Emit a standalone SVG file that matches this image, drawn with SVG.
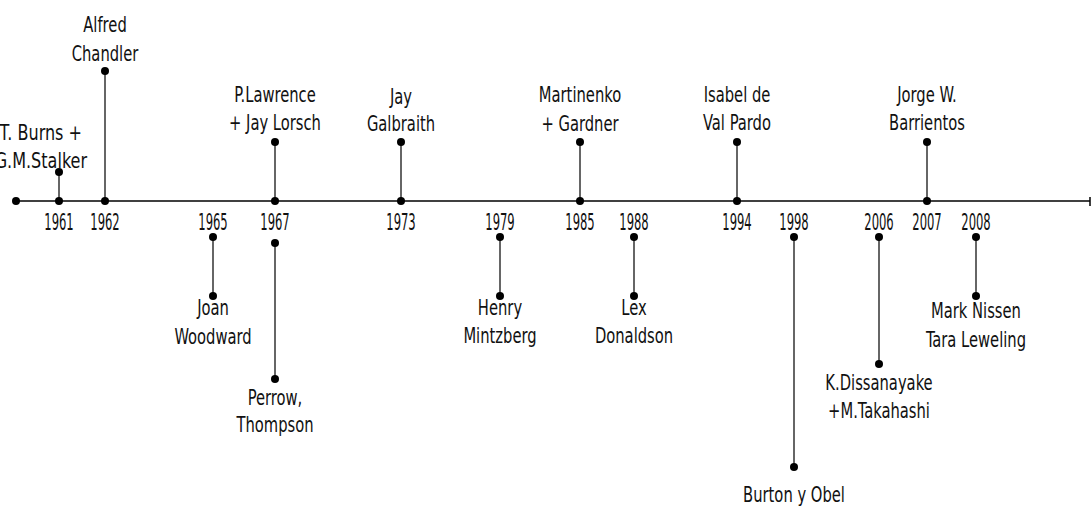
<svg xmlns="http://www.w3.org/2000/svg" width="1092" height="508" viewBox="0 0 1092 508">
<style>
text{font-family:"DejaVu Sans Condensed","DejaVu Sans",sans-serif;font-size:21px;fill:#111;text-anchor:middle}
.yr{font-size:23px}
.end{text-anchor:end}
.stem{stroke:#333;stroke-width:1.5}
.axis{stroke:#000;stroke-width:1.5}
.dot{fill:#000}
</style>
<rect width="1092" height="508" fill="#fff"/>
<g id="connectors">
<line class="axis" x1="16" y1="201" x2="1090" y2="201"/>
<line class="axis" x1="1090" y1="197" x2="1090" y2="206"/>
<line class="stem" x1="59" y1="172" x2="59" y2="201"/>
<line class="stem" x1="105" y1="71" x2="105" y2="201"/>
<line class="stem" x1="275" y1="142" x2="275" y2="201"/>
<line class="stem" x1="401" y1="142" x2="401" y2="201"/>
<line class="stem" x1="580" y1="142" x2="580" y2="201"/>
<line class="stem" x1="737" y1="142" x2="737" y2="201"/>
<line class="stem" x1="927" y1="142" x2="927" y2="201"/>
<line class="stem" x1="213" y1="237" x2="213" y2="296"/>
<line class="stem" x1="275" y1="243" x2="275" y2="379"/>
<line class="stem" x1="500" y1="237" x2="500" y2="296"/>
<line class="stem" x1="634" y1="237" x2="634" y2="296"/>
<line class="stem" x1="794" y1="237" x2="794" y2="467"/>
<line class="stem" x1="879" y1="237" x2="879" y2="364"/>
<line class="stem" x1="976" y1="237" x2="976" y2="296"/>
</g>
<g id="axis-dots">
<circle class="dot" cx="16" cy="201" r="4"/>
<circle class="dot" cx="59" cy="201" r="4"/>
<circle class="dot" cx="105" cy="201" r="4"/>
<circle class="dot" cx="275" cy="201" r="4"/>
<circle class="dot" cx="401" cy="201" r="4"/>
<circle class="dot" cx="580" cy="201" r="4"/>
<circle class="dot" cx="737" cy="201" r="4"/>
<circle class="dot" cx="927" cy="201" r="4"/>
</g>
<g id="years">
<text class="yr" transform="translate(59 230) scale(0.56 1)">1961</text>
<text class="yr" transform="translate(105 230) scale(0.56 1)">1962</text>
<text class="yr" transform="translate(213 230) scale(0.56 1)">1965</text>
<text class="yr" transform="translate(275 230) scale(0.56 1)">1967</text>
<text class="yr" transform="translate(401 230) scale(0.56 1)">1973</text>
<text class="yr" transform="translate(500 230) scale(0.56 1)">1979</text>
<text class="yr" transform="translate(580 230) scale(0.56 1)">1985</text>
<text class="yr" transform="translate(634 230) scale(0.56 1)">1988</text>
<text class="yr" transform="translate(737 230) scale(0.56 1)">1994</text>
<text class="yr" transform="translate(794 230) scale(0.56 1)">1998</text>
<text class="yr" transform="translate(879 230) scale(0.56 1)">2006</text>
<text class="yr" transform="translate(927 230) scale(0.56 1)">2007</text>
<text class="yr" transform="translate(976 230) scale(0.56 1)">2008</text>
</g>
<g id="n-burns">
<circle class="dot" cx="59" cy="172" r="4"/>
<text class="end" transform="translate(82 140) scale(0.85 1)">T. Burns +</text>
<text class="end" transform="translate(87 168) scale(0.85 1)">G.M.Stalker</text>
</g>
<g id="n-chandler">
<circle class="dot" cx="105" cy="71" r="4"/>
<text transform="translate(105 32) scale(0.78 1)">Alfred</text>
<text transform="translate(105 61) scale(0.78 1)">Chandler</text>
</g>
<g id="n-lawrence">
<circle class="dot" cx="275" cy="142" r="4"/>
<text transform="translate(275 102) scale(0.78 1)">P.Lawrence</text>
<text transform="translate(275 130) scale(0.78 1)">+ Jay Lorsch</text>
</g>
<g id="n-galbraith">
<circle class="dot" cx="401" cy="142" r="4"/>
<text transform="translate(401 104) scale(0.78 1)">Jay</text>
<text transform="translate(401 131) scale(0.78 1)">Galbraith</text>
</g>
<g id="n-martinenko">
<circle class="dot" cx="580" cy="142" r="4"/>
<text transform="translate(580 102) scale(0.78 1)">Martinenko</text>
<text transform="translate(580 131) scale(0.78 1)">+ Gardner</text>
</g>
<g id="n-pardo">
<circle class="dot" cx="737" cy="142" r="4"/>
<text transform="translate(737 102) scale(0.78 1)">Isabel de</text>
<text transform="translate(737 130) scale(0.78 1)">Val Pardo</text>
</g>
<g id="n-barrientos">
<circle class="dot" cx="927" cy="142" r="4"/>
<text transform="translate(927 102) scale(0.78 1)">Jorge W.</text>
<text transform="translate(927 130) scale(0.78 1)">Barrientos</text>
</g>
<g id="n-woodward">
<circle class="dot" cx="213" cy="237" r="4"/>
<circle class="dot" cx="213" cy="296" r="4"/>
<text transform="translate(213 315) scale(0.78 1)">Joan</text>
<text transform="translate(213 344) scale(0.78 1)">Woodward</text>
</g>
<g id="n-perrow">
<circle class="dot" cx="275" cy="243" r="4"/>
<circle class="dot" cx="275" cy="379" r="4"/>
<text transform="translate(275 405) scale(0.78 1)">Perrow,</text>
<text transform="translate(275 432) scale(0.78 1)">Thompson</text>
</g>
<g id="n-mintzberg">
<circle class="dot" cx="500" cy="237" r="4"/>
<circle class="dot" cx="500" cy="296" r="4"/>
<text transform="translate(500 315) scale(0.78 1)">Henry</text>
<text transform="translate(500 343) scale(0.78 1)">Mintzberg</text>
</g>
<g id="n-donaldson">
<circle class="dot" cx="634" cy="237" r="4"/>
<circle class="dot" cx="634" cy="296" r="4"/>
<text transform="translate(634 315) scale(0.78 1)">Lex</text>
<text transform="translate(634 343) scale(0.78 1)">Donaldson</text>
</g>
<g id="n-burton">
<circle class="dot" cx="794" cy="237" r="4"/>
<circle class="dot" cx="794" cy="467" r="4"/>
<text transform="translate(794 502) scale(0.78 1)">Burton y Obel</text>
</g>
<g id="n-dissanayake">
<circle class="dot" cx="879" cy="237" r="4"/>
<circle class="dot" cx="879" cy="364" r="4"/>
<text transform="translate(879 390) scale(0.78 1)">K.Dissanayake</text>
<text transform="translate(879 418) scale(0.78 1)">+M.Takahashi</text>
</g>
<g id="n-nissen">
<circle class="dot" cx="976" cy="237" r="4"/>
<circle class="dot" cx="976" cy="296" r="4"/>
<text transform="translate(976 318) scale(0.78 1)">Mark Nissen</text>
<text transform="translate(976 347) scale(0.78 1)">Tara Leweling</text>
</g>
</svg>
